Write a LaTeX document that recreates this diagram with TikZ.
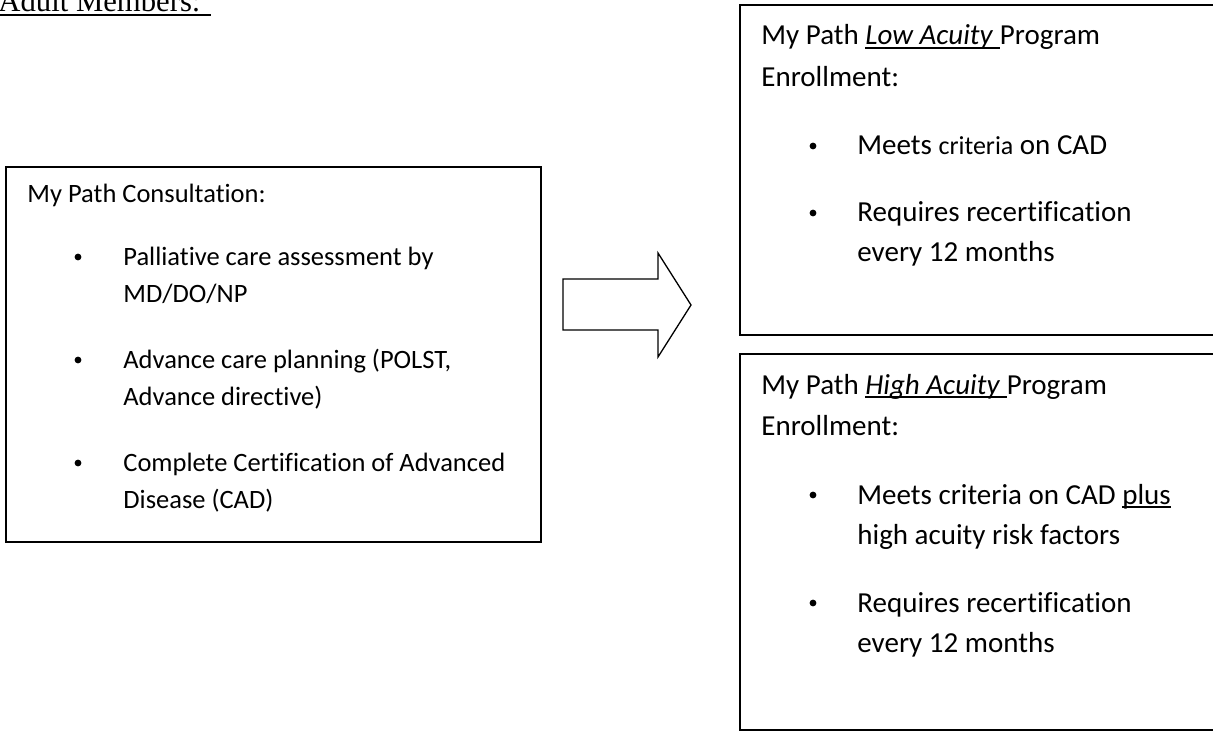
\documentclass[tikz,border=0pt]{standalone}
\usepackage{fontspec}
\setmainfont{Carlito}[Ligatures=NoCommon]
\newfontfamily\timesfont{Liberation Serif}
% underline with the rule under the baseline
\newcommand{\uln}[2][0.75pt]{\setbox0\hbox{#2}\rlap{\rule[-1.9pt]{\wd0}{#1}}\box0}

\begin{document}
\begin{tikzpicture}[x=0.5pt,y=-0.5pt,
	box/.style = {draw, line width=1pt, inner sep=0pt},
	line/.style = {anchor=base west, inner sep=0pt},
	dot/.style = {circle, fill, inner sep=0pt, minimum size=3.4pt},
	small/.style = {font=\fontsize{13.25}{16}\selectfont},
	big/.style = {font=\fontsize{14.5}{17}\selectfont}]

	\clip (0,0) rectangle (1213,731);

	\node[line,font=\timesfont\fontsize{15.35}{18}\selectfont] (head) at (-2,12) {\uln[1pt]{Adult Members: }};

	% the three boxes
	\node[box, minimum width=267.5pt, minimum height=187.5pt] (consult) at (273.5,354.5) {};
	\node[box, minimum width=245pt, minimum height=165pt] (lowbox) at (985,170) {};
	\node[box, minimum width=245pt, minimum height=188pt] (highbox) at (985,542) {};

	% consultation
	\node[line,small] (c0) at (27,203) {My Path Consultation:};
	\node[dot] (d1) at (78,257) {};
	\node[line,small] (c1) at (123,265.5) {Palliative care assessment by};
	\node[line,small] (c2) at (123,302.5) {MD/DO/NP};
	\node[dot] (d2) at (78,360) {};
	\node[line,small] (c3) at (123,368.5) {Advance care planning (POLST,};
	\node[line,small] (c4) at (123,405.5) {Advance directive)};
	\node[dot] (d3) at (78,463) {};
	\node[line,small] (c5) at (123,471.5) {Complete Certification of Advanced};
	\node[line,small] (c6) at (123,508.5) {Disease (CAD)};

	% low acuity
	\node[line,big] (l0) at (761,45) {My Path \uln{\textit{Low Acuity }}Program};
	\node[line,big] (l1) at (761,87) {Enrollment:};
	\node[dot] (e1) at (813,146) {};
	\node[line,big] (l2) at (857,155) {Meets {\fontsize{13}{16}\selectfont criteria} on CAD};
	\node[dot] (e2) at (813,213) {};
	\node[line,big] (l3) at (857,222) {Requires recertification};
	\node[line,big] (l4) at (857,262) {every 12 months};

	% high acuity
	\node[line,big] (h0) at (761,394) {My Path \uln{\textit{High Acuity }}Program};
	\node[line,big] (h1) at (761,436) {Enrollment:};
	\node[dot] (f1) at (813,495) {};
	\node[line,big] (h2) at (857,504) {Meets criteria on CAD \uln{plus}};
	\node[line,big] (h3) at (857,544) {high acuity risk factors};
	\node[dot] (f2) at (813,603) {};
	\node[line,big] (h4) at (857,612) {Requires recertification};
	\node[line,big] (h5) at (857,652) {every 12 months};

	% block arrow
	\draw[line width=0.65pt] (563,279) -- (658,279) -- (658,253) -- (691,305)
		-- (658,357) -- (658,330) -- (563,330) -- cycle;
\end{tikzpicture}
\end{document}
